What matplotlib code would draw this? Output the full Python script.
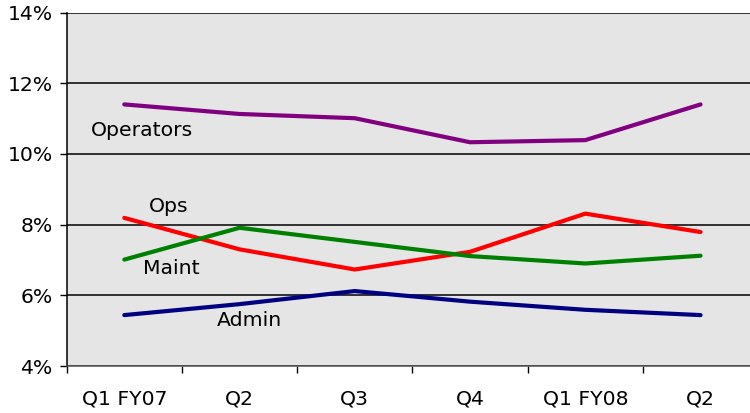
import matplotlib
matplotlib.use("Agg")
import matplotlib.pyplot as plt
from matplotlib.ticker import FixedLocator, FuncFormatter

plt.rcParams['font.family'] = ['DejaVu Sans']

quarters = ["Q1 FY07", "Q2", "Q3", "Q4", "Q1 FY08", "Q2"]
operators = [11.40, 11.13, 11.01, 10.33, 10.39, 11.40]
ops = [8.19, 7.30, 6.73, 7.23, 8.31, 7.79]
maint = [7.01, 7.91, 7.51, 7.11, 6.90, 7.12]
admin = [5.44, 5.75, 6.12, 5.82, 5.59, 5.44]
y_ticks = [4, 6, 8, 10, 12, 14]

fig = plt.figure(figsize=(7.5, 4.13), dpi=100)
ax = fig.add_axes([0.0889, 0.1138, 0.922, 0.8559])
ax.set_facecolor("#e5e5e5")

x = list(range(len(quarters)))
lw = 3.0
ax.plot(x, operators, color="#800080", lw=lw, solid_capstyle="round", zorder=3)
ax.plot(x, ops, color="#ff0000", lw=lw, solid_capstyle="round", zorder=3)
ax.plot(x, maint, color="#008000", lw=lw, solid_capstyle="round", zorder=3)
ax.plot(x, admin, color="#000080", lw=lw, solid_capstyle="round", zorder=3)

ax.set_xlim(-0.5, len(quarters) - 0.5)
ax.set_ylim(4, 14)

fs = 14.7
ax.set_yticks(y_ticks)
ax.yaxis.set_major_formatter(FuncFormatter(lambda v, p: f"{v:.0f}%"))
ax.yaxis.grid(True, color="black", lw=1.1, zorder=1)
ax.tick_params(axis="y", direction="out", length=5, width=1, labelsize=fs, pad=5)

ax.set_xticks(x)
ax.set_xticklabels(quarters)
ax.xaxis.set_minor_locator(FixedLocator([i - 0.5 for i in range(len(quarters) + 1)]))
ax.tick_params(axis="x", which="major", length=0, labelsize=fs, pad=17)
ax.tick_params(axis="x", which="minor", direction="out", length=5, width=1, color="black")

for side in ["top", "right"]:
    ax.spines[side].set_visible(False)
ax.spines["left"].set_color("black")
ax.spines["left"].set_linewidth(1.1)
ax.spines["bottom"].set_color("#555555")
ax.spines["bottom"].set_linewidth(1.1)
ax.set_axisbelow(True)

label_kw = dict(fontsize=fs, color="black", va="center", ha="left")
ax.text(-0.29, 10.65, "Operators", **label_kw)
ax.text(0.214, 8.51, "Ops", **label_kw)
ax.text(0.162, 6.76, "Maint", **label_kw)
ax.text(0.805, 5.30, "Admin", **label_kw)

fig.savefig("out.png", dpi=100)
